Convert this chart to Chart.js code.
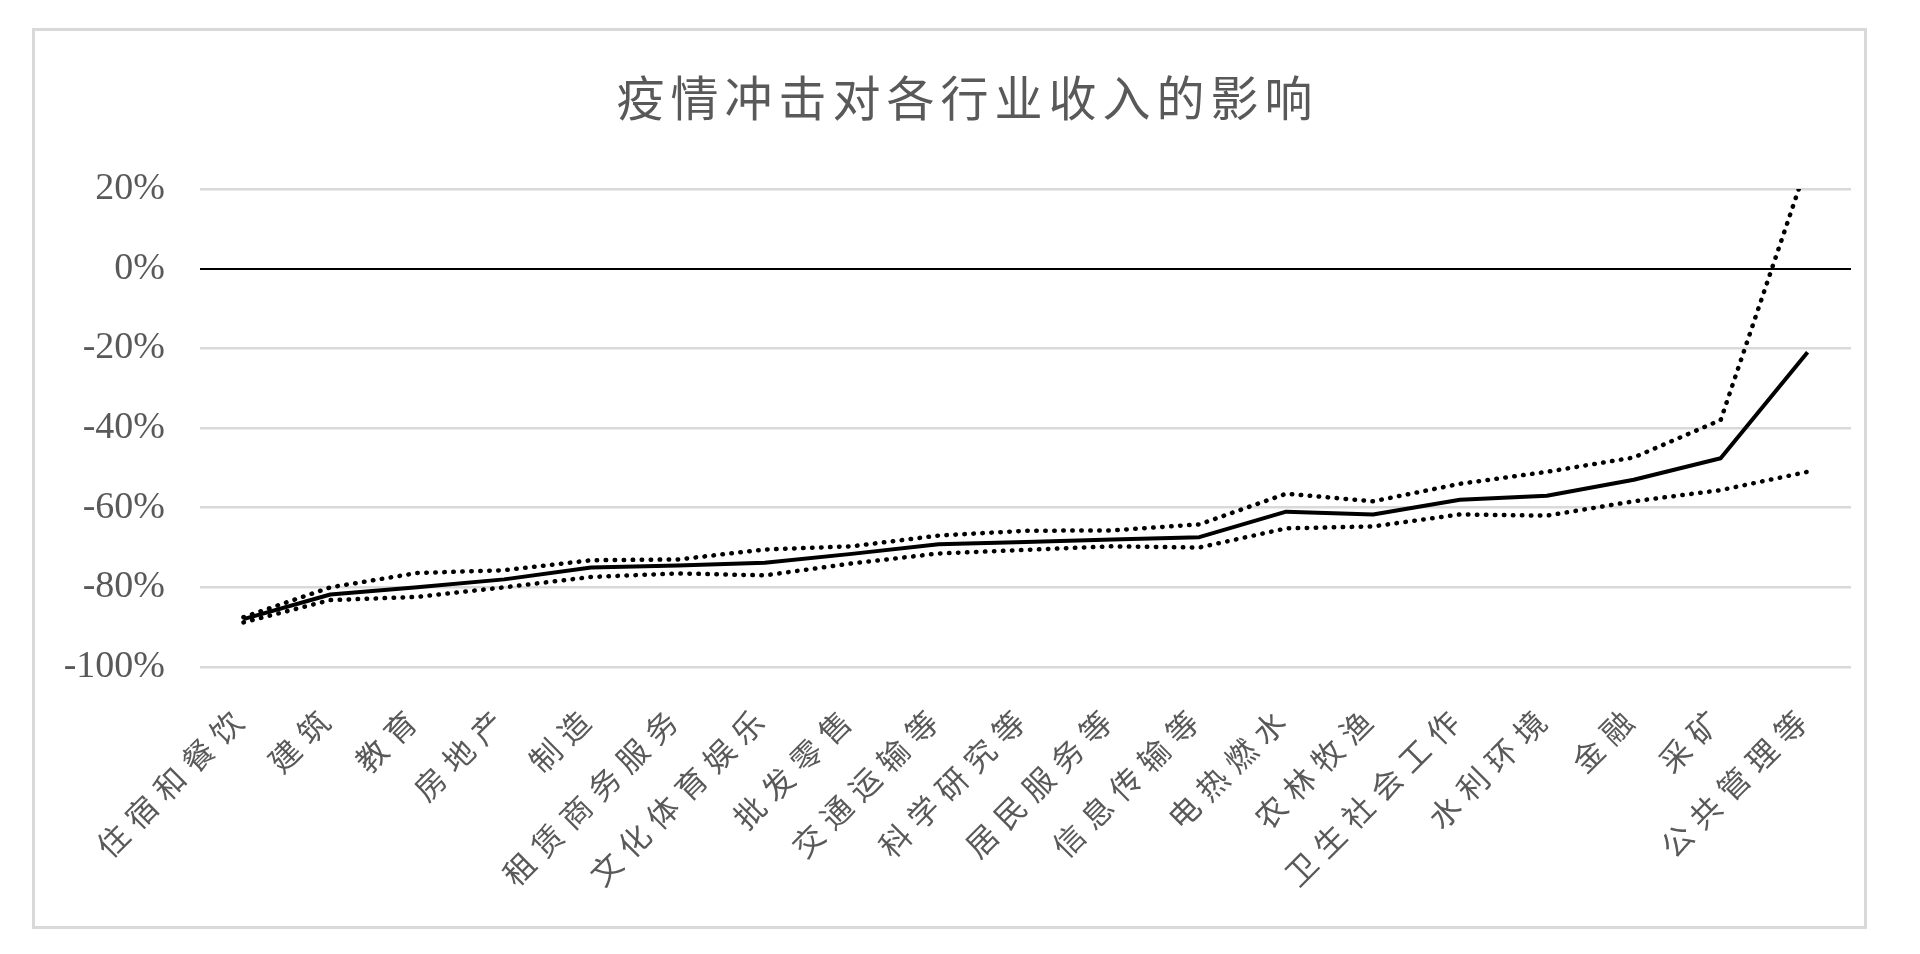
<!DOCTYPE html>
<html>
<head>
<meta charset="utf-8">
<script src="https://cdn.jsdelivr.net/npm/chart.js@4.4.1/dist/chart.umd.min.js"></script>
<style>
  html, body { margin: 0; padding: 0; background: #fff; }
  #wrap { position: relative; width: 1920px; height: 954px; overflow: hidden; }
  #frame { position: absolute; left: 32px; top: 28px; width: 1829px; height: 895px; border: 3px solid #d9d9d9; pointer-events: none; }
  #title { position: absolute; left: 32px; width: 1835px; top: 63px; text-align: center; padding-left: 36px; box-sizing: border-box;
    font-family: "Noto Sans CJK SC", sans-serif; font-size: 48px; letter-spacing: 6px; color: #595959; line-height: 64px; }
  #box { position: absolute; left: 0; top: 0; width: 1920px; height: 954px; }
</style>
</head>
<body>
<div id="wrap">
  <div id="box"><canvas id="chart"></canvas></div>
  <div id="frame"></div>
  <div id="title">疫情冲击对各行业收入的影响</div>
</div>
<script>
// industries, left to right
var industries = ['住宿和餐饮', '建筑', '教育', '房地产', '制造', '租赁商务服务', '文化体育娱乐', '批发零售',
  '交通运输等', '科学研究等', '居民服务等', '信息传输等', '电热燃水', '农林牧渔', '卫生社会工作', '水利环境',
  '金融', '采矿', '公共管理等'];

// income change in % (central estimate, upper and lower bound)
var centralValues = [-88, -81.8, -80, -78, -75, -74.5, -73.8, -71.6, -69.2, -68.6, -68, -67.4,
  -61, -61.7, -58, -57, -53, -47.6, -21];
var upperValues = [-87.5, -80, -76.4, -75.7, -73.2, -73, -70.5, -69.7, -67, -65.8, -65.7, -64.2,
  -56.5, -58.4, -54, -51, -47.4, -38, 26.5];
var lowerValues = [-88.8, -83.2, -82.4, -80, -77.4, -76.5, -77, -74, -71.5, -70.6, -69.7, -70,
  -65.2, -64.7, -61.7, -62, -58.4, -55.6, -51];

// y axis ticks
var yTicks = [-100, -80, -60, -40, -20, 0, 20];

// category axis that draws its labels with some letter spacing
class SpacedCategory extends Chart.CategoryScale {
  drawLabels(area) {
    this.ctx.save();
    this.ctx.letterSpacing = '9px';
    super.drawLabels(area);
    this.ctx.restore();
  }
}
SpacedCategory.id = 'spacedCategory';
SpacedCategory.defaults = Chart.CategoryScale.defaults;
Chart.register(SpacedCategory);

var dotted = {
  borderColor: '#000',
  borderWidth: 4.5,
  borderDash: [0.5, 8.5],
  borderCapStyle: 'round',
  pointRadius: 0,
  tension: 0,
  fill: false
};

new Chart(document.getElementById('chart'), {
  type: 'line',
  data: {
    labels: industries,
    datasets: [
      { label: '中值', data: centralValues, borderColor: '#000', borderWidth: 4, borderJoinStyle: 'round',
        pointRadius: 0, tension: 0, fill: false },
      Object.assign({ label: '上限', data: upperValues }, dotted),
      Object.assign({ label: '下限', data: lowerValues }, dotted)
    ]
  },
  options: {
    responsive: true,
    maintainAspectRatio: false,
    animation: false,
    layout: { padding: { top: 189, left: 40, right: 69, bottom: 0 } },
    plugins: {
      legend: { display: false },
      tooltip: { enabled: false },
      title: { display: false }
    },
    scales: {
      x: {
        type: 'spacedCategory',
        offset: true,
        grid: { display: false, drawTicks: false },
        border: { display: false },
        ticks: {
          autoSkip: false,
          minRotation: 45,
          maxRotation: 45,
          padding: 30,
          color: '#595959',
          font: { family: '"Noto Sans CJK SC", sans-serif', size: 31 }
        },
        afterFit: function(scale) { scale.height = 287; }
      },
      y: {
        min: -100,
        max: 20,
        afterBuildTicks: function(scale) {
          scale.ticks = yTicks.map(function(v) { return { value: v }; });
        },
        grid: {
          drawTicks: false,
          color: function(ctx) { return ctx.tick && ctx.tick.value === 0 ? '#000' : '#d9d9d9'; },
          lineWidth: function(ctx) { return ctx.tick && ctx.tick.value === 0 ? 2 : 2.5; }
        },
        border: { display: false },
        ticks: {
          padding: 35,
          color: '#595959',
          font: { family: '"Liberation Serif", serif', size: 38 },
          callback: function(v) { return v + '%'; }
        },
        afterFit: function(scale) { scale.width = 160; }
      }
    }
  }
});
</script>
</body>
</html>
